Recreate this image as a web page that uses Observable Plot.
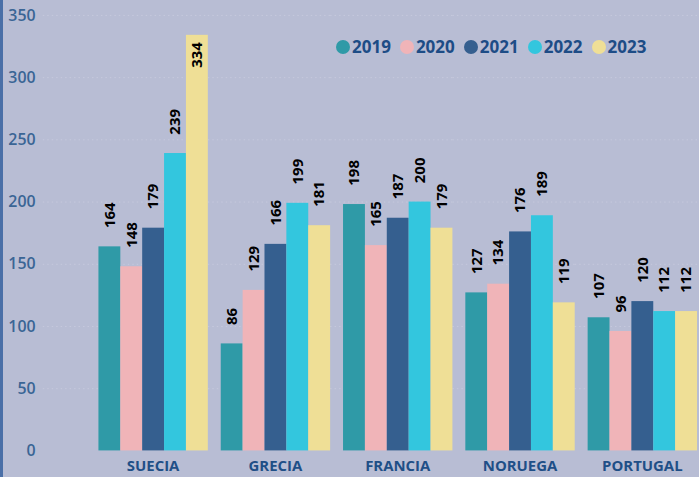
<!DOCTYPE html>
<html>
<head>
<meta charset="utf-8">
<script src="https://cdn.jsdelivr.net/npm/d3@7"></script>
<script src="https://cdn.jsdelivr.net/npm/@observablehq/plot@0.6"></script>
<style>
  html, body { margin: 0; padding: 0; background: #b8bdd4; overflow: hidden; width: 699px; height: 477px; }
  #wrap { position: relative; width: 699px; height: 477px; overflow: hidden; background: #b8bdd4; }
  #wrap svg { position: absolute; left: 0; top: 0; }
  #border { position: absolute; left: 0; top: 0; width: 3px; height: 477px; background: #4a6fa7; }
  #legend { position: absolute; left: 336px; top: 35px; display: flex; align-items: center;
            font-family: "Open Sans", sans-serif; font-weight: 700; font-size: 17px; color: #1d4c86; }
  #legend .item { display: flex; align-items: center; margin-right: 9px; }
  #legend .sw { width: 14px; height: 14px; border-radius: 50%; margin-right: 2px; }
</style>
</head>
<body>
<div id="wrap">
  <div id="chart"></div>
  <div id="border"></div>
  <div id="legend"></div>
</div>
<script>
const countries = ["SUECIA", "GRECIA", "FRANCIA", "NORUEGA", "PORTUGAL"];
const years = ["2019", "2020", "2021", "2022", "2023"];
const colors = ["#2f9aa7", "#f0b4b8", "#355f8f", "#33c6de", "#efdf96"];
const yTicks = [0, 50, 100, 150, 200, 250, 300, 350];
const v2019 = [164, 86, 198, 127, 107];
const v2020 = [148, 129, 165, 134, 96];
const v2021 = [179, 166, 187, 176, 120];
const v2022 = [239, 199, 200, 189, 112];
const v2023 = [334, 181, 179, 119, 112];

const series = [v2019, v2020, v2021, v2022, v2023];
const data = [];
countries.forEach((c, i) => {
  years.forEach((y, j) => data.push({country: c, year: y, value: series[j][i]}));
});

const grid = [];
countries.forEach(c => yTicks.filter(t => t > 0).forEach(t => grid.push({country: c, tick: t})));

const topLimit = 310;
const gridStyle = {stroke: "#c6c9dd", strokeDasharray: "1.5,3", strokeWidth: 1};

const chart = Plot.plot({
  width: 703,
  height: 477,
  marginTop: 15,
  marginBottom: 24,
  marginLeft: 43,
  marginRight: 0,
  style: {background: "transparent", fontFamily: "Open Sans, sans-serif", overflow: "hidden"},
  fx: {domain: countries, range: [97.7, 702.5], paddingInner: 0.095, paddingOuter: 0, label: null, axis: null},
  x: {domain: years, paddingInner: 0, paddingOuter: 0, axis: null},
  y: {domain: [0, 350], axis: null},
  color: {domain: years, range: colors},
  marks: [
    Plot.ruleY(grid.filter(d => d.country === countries[0]), {fx: "country", y: "tick", insetLeft: -55, ...gridStyle}),
    Plot.ruleY(grid.filter(d => d.country !== countries[0]), {fx: "country", y: "tick", insetLeft: -12, ...gridStyle}),
    Plot.barY(data, {fx: "country", x: "year", y: "value", fill: "year", inset: 0}),
    Plot.text(data.filter(d => d.value <= topLimit), {
      fx: "country", x: "year", y: "value", text: d => String(d.value),
      rotate: -90, textAnchor: "start", lineAnchor: "middle", dy: -19,
      fontSize: 15, fontWeight: 700, fill: "#000"
    }),
    Plot.text(data.filter(d => d.value > topLimit), {
      fx: "country", x: "year", y: "value", text: d => String(d.value),
      rotate: -90, textAnchor: "end", lineAnchor: "middle", dy: 7,
      fontSize: 15, fontWeight: 700, fill: "#000"
    }),
    Plot.axisY({ticks: yTicks, tickSize: 0, tickPadding: 62.7, fontSize: 16, fontWeight: 600, fill: "#3a6595", label: null}),
    Plot.axisFx({domain: countries, anchor: "bottom", tickSize: 0, tickPadding: 10, fontSize: 15, fontWeight: 700, fill: "#1f4f87", label: null})
  ]
});
document.getElementById("chart").appendChild(chart);

const legend = document.getElementById("legend");
years.forEach((y, j) => {
  const item = document.createElement("div");
  item.className = "item";
  const sw = document.createElement("span");
  sw.className = "sw";
  sw.style.background = colors[j];
  const t = document.createElement("span");
  t.textContent = y;
  item.appendChild(sw);
  item.appendChild(t);
  legend.appendChild(item);
});
</script>
</body>
</html>
